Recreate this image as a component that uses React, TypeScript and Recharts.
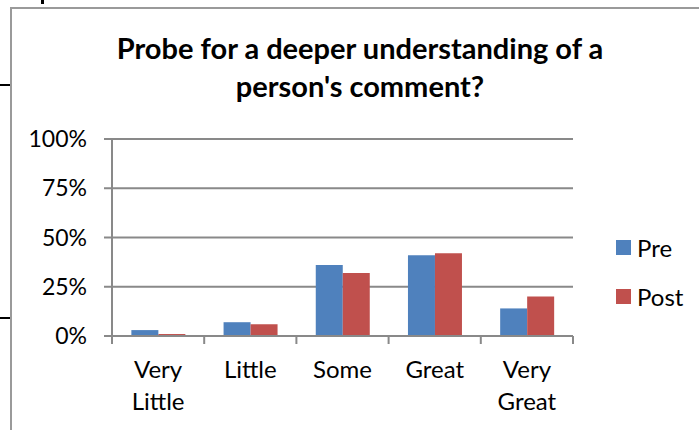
import { BarChart, Bar, XAxis, YAxis, CartesianGrid } from "recharts"

const categories = ["Very Little", "Little", "Some", "Great", "Very Great"]
const preValues = [3, 7, 36, 41, 14]
const postValues = [1, 6, 32, 42, 20]
const yTicks = [0, 25, 50, 75, 100]
const title = ["Probe for a deeper understanding of a", "person's comment?"]

const data = categories.map((name, i) => ({ name, pre: preValues[i], post: postValues[i] }))

const FONT = "Lato, 'Open Sans', sans-serif"
const AXIS = "#898989"
const BLUE = "#4F81BD"
const RED = "#C0504D"

// Category label plus Excel-style tick marks on the band edges
function CategoryTick({ x, y, payload, index, visibleTicksCount }: any) {
  const words = String(payload.value).split(" ")
  const half = payload.offset ?? 0
  const last = index === visibleTicksCount - 1
  return (
    <g>
      <line x1={x - half} x2={x - half} y1={y} y2={y + 8} stroke={AXIS} strokeWidth={2} />
      {last && <line x1={x + half} x2={x + half} y1={y} y2={y + 8} stroke={AXIS} strokeWidth={2} />}
      <text x={x} y={y} textAnchor="middle" fontFamily={FONT} fontSize={24} fill="#000">
        {words.map((w, i) => (
          <tspan key={i} x={x} dy={i === 0 ? 42 : 32}>{w}</tspan>
        ))}
      </text>
    </g>
  )
}

export default function App() {
  return (
    <div style={{ position: "absolute", left: 0, top: 0, width: 699, height: 430, background: "#fff", overflow: "hidden" }}>
      {/* frame of the surrounding sheet */}
      <div style={{ position: "absolute", left: 10, top: 7, width: 700, height: 440, borderLeft: "2px solid #9a9a9a", borderTop: "2px solid #9a9a9a" }} />
      <div style={{ position: "absolute", left: 0, top: 84, width: 10, height: 2, background: "#000" }} />
      <div style={{ position: "absolute", left: 0, top: 317, width: 10, height: 2, background: "#000" }} />
      <div style={{ position: "absolute", left: 41, top: 0, width: 3, height: 4, background: "#000" }} />

      <div style={{ position: "absolute", left: 0, top: 29, width: 720, textAlign: "center", fontFamily: FONT, fontWeight: 700, fontSize: 29, lineHeight: "38px", color: "#000" }}>
        {title.map((t) => <div key={t}>{t}</div>)}
      </div>

      <div style={{ position: "absolute", left: 0, top: 0 }}>
        <BarChart width={699} height={430} data={data} margin={{ top: 139, right: 126, left: 0, bottom: 0 }} barCategoryGap="21%" barGap={0}>
          <CartesianGrid vertical={false} stroke={AXIS} strokeWidth={2} />
          <YAxis
            width={112}
            domain={[0, 100]}
            ticks={yTicks}
            tickFormatter={(v) => `${v}%`}
            axisLine={{ stroke: AXIS, strokeWidth: 2 }}
            tickLine={{ stroke: AXIS, strokeWidth: 2 }}
            tickSize={8}
            tickMargin={17}
            tick={{ fontFamily: FONT, fontSize: 23, fill: "#000" }}
            interval={0}
          />
          <XAxis
            dataKey="name"
            height={94}
            axisLine={{ stroke: AXIS, strokeWidth: 2 }}
            tickLine={false}
            tickSize={0}
            tickMargin={0}
            tick={<CategoryTick />}
            interval={0}
          />
          <Bar dataKey="pre" name="Pre" fill={BLUE} isAnimationActive={false} />
          <Bar dataKey="post" name="Post" fill={RED} isAnimationActive={false} />
        </BarChart>
      </div>

      {[{ label: "Pre", color: BLUE, top: 240 }, { label: "Post", color: RED, top: 289 }].map((l) => (
        <div key={l.label} style={{ position: "absolute", left: 616, top: l.top, display: "flex", alignItems: "center", fontFamily: FONT, fontSize: 24, lineHeight: "15px" }}>
          <div style={{ width: 15, height: 15, background: l.color, marginRight: 6 }} />
          <span>{l.label}</span>
        </div>
      ))}
    </div>
  )
}
